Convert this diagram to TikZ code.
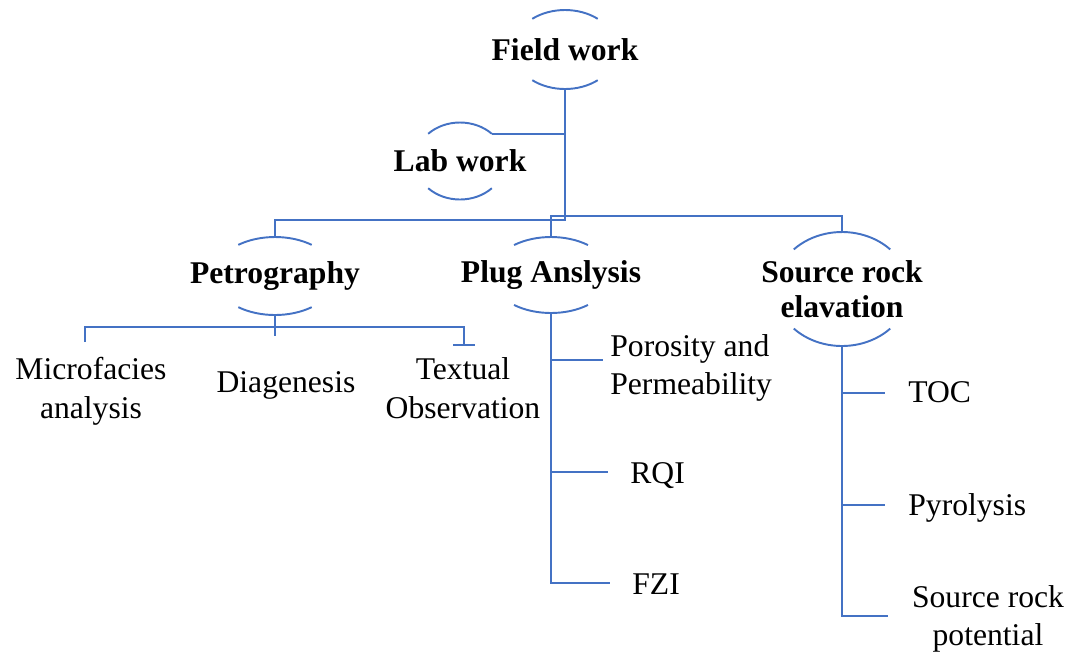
\documentclass[tikz,border=0pt]{standalone}
\usepackage{fontspec}
\setmainfont{Liberation Serif}
\usetikzlibrary{positioning,calc,arrows.meta}
\definecolor{linkblue}{RGB}{68,114,196}
\tikzset{
  link/.style={draw=linkblue, line width=1.1pt},
  head/.style={font=\fontsize{18}{19.8}\selectfont\bfseries, align=center, inner sep=0pt},
  leaf/.style={font=\fontsize{18}{22}\selectfont, align=center, inner sep=0pt},
  leafl/.style={leaf, align=left, anchor=west},
}
% top and bottom arcs round a heading: centre, x radius, y radius, start angle
\newcommand{\caparcs}[4]{%
  \pgfmathsetmacro{\arcA}{180-#4}%
  \pgfmathsetmacro{\arcB}{180+#4}%
  \pgfmathsetmacro{\arcC}{360-#4}%
  \draw[link] ($(#1)+(#4:#2 and #3)$) arc[start angle=#4, end angle=\arcA, x radius=#2, y radius=#3];
  \draw[link] ($(#1)+(\arcB:#2 and #3)$) arc[start angle=\arcB, end angle=\arcC, x radius=#2, y radius=#3];
  \coordinate (#1-n) at ($(#1)+(0,#3)$);
  \coordinate (#1-s) at ($(#1)+(0,-#3)$);
  \coordinate (#1-ne) at ($(#1)+(#4:#2 and #3)$);
}

\begin{document}
\begin{tikzpicture}[x=0.02cm,y=0.02cm]
\useasboundingbox (0,0) rectangle (1071,-657);

% headings
\node[head] (fw) at (565,-49.5) {Field work};
\node[head] (lab) at (460,-161) {Lab work};
\node[head] (petro) at (275,-276) {Petrography};
\node[head] (plug) at (551,-275) {Plug Anslysis};
\node[head] (src) at (842,-289) {Source rock\\elavation};

\caparcs{fw}{52}{39.5}{51}
\caparcs{lab}{45}{38.5}{45}
\caparcs{petro}{61}{39}{53}
\caparcs{plug}{60}{38}{52}
\caparcs{src}{67}{57}{44}

% main tree
\coordinate (hub) at (565,-220);
\coordinate (rbus) at (551,-216);
\draw[link] (fw-s) -- (hub) -| (petro-n);
\draw[link] (lab-ne) -- (lab-ne -| fw-s);
\draw[link] (plug-n) -- (rbus) -| (src-n);

% petrography
\node[leaf] (mf) at (91,-391) {Microfacies\\analysis};
\node[leaf] (dia) at (286,-385.5) {Diagenesis};
\node[leaf] (tx) at (463,-388) {Textual\\Observation};
\coordinate (pbus) at (275,-327);
\coordinate (mf-t) at (85,-342);
\coordinate (tx-t) at (464,-346);
\draw[link] (petro-s) -- ++(0,-21);
\draw[link,-{Bar[width=12pt]}] (mf-t) |- (pbus) -| (tx-t);

% plug analysis
\node[leafl] (por) at (610,-368) {Porosity and\\Permeability};
\node[leafl] (rqi) at (630,-475.5) {RQI};
\node[leafl] (fzi) at (632,-584.5) {FZI};
\coordinate (por-in) at (603,-360);
\coordinate (rqi-in) at (608,-472);
\coordinate (fzi-in) at (610,-583);
\draw[link] (plug-s) |- (fzi-in);
\draw[link] (plug-s |- por-in) -- (por-in);
\draw[link] (plug-s |- rqi-in) -- (rqi-in);

% source rock
\node[leafl] (toc) at (908,-392.5) {TOC};
\node[leafl] (pyr) at (908,-507.5) {Pyrolysis};
\node[leaf] (srp) at (988,-619) {Source rock\\potential};
\coordinate (toc-in) at (885,-393);
\coordinate (pyr-in) at (885,-505);
\coordinate (srp-in) at (888,-616);
\draw[link] (src-s) |- (srp-in);
\draw[link] (src-s |- toc-in) -- (toc-in);
\draw[link] (src-s |- pyr-in) -- (pyr-in);
\end{tikzpicture}
\end{document}
